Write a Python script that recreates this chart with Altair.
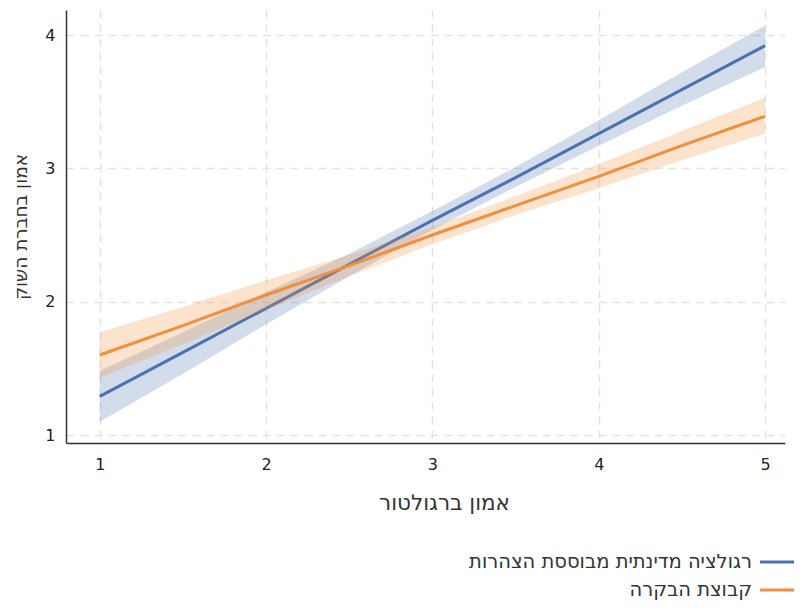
import altair as alt
import pandas as pd

# ---- data ----
x_vals = [1.0, 1.5, 2.0, 2.5, 3.0, 3.5, 4.0, 4.5, 5.0]

blue_mid = [1.29, 1.62, 1.95, 2.28, 2.61, 2.93, 3.26, 3.59, 3.92]
blue_lo = [1.10, 1.46, 1.83, 2.19, 2.54, 2.86, 3.17, 3.47, 3.76]
blue_hi = [1.48, 1.77, 2.07, 2.36, 2.68, 3.01, 3.36, 3.72, 4.07]

orange_mid = [1.60, 1.82, 2.05, 2.27, 2.50, 2.72, 2.94, 3.17, 3.39]
orange_lo = [1.43, 1.68, 1.94, 2.19, 2.43, 2.65, 2.85, 3.06, 3.26]
orange_hi = [1.77, 1.96, 2.16, 2.35, 2.56, 2.79, 3.03, 3.28, 3.53]

groups = ["רגולציה מדינתית מבוססת הצהרות", "קבוצת הבקרה"]
colors = ["#4C72B0", "#F28E3C"]

x_title = "אמון ברגולטור"
y_title = "אמון בחברת השוק"
x_ticks = [1, 2, 3, 4, 5]
y_ticks = [1, 2, 3, 4]

rows = []
for g, mid, lo, hi in [(groups[0], blue_mid, blue_lo, blue_hi),
                       (groups[1], orange_mid, orange_lo, orange_hi)]:
    for x, m, l, h in zip(x_vals, mid, lo, hi):
        rows.append({"group": g, "x": x, "y": m, "lo": l, "hi": h})
df = pd.DataFrame(rows)

xs = alt.Scale(domain=[0.797, 5.12], nice=False, zero=False)
ys = alt.Scale(domain=[0.94, 4.1875], nice=False, zero=False)

xax = alt.Axis(values=x_ticks, title=x_title, format="d",
               titleX=378, titleAlign="center")
yax = alt.Axis(values=y_ticks, title=y_title, format="d")

base = alt.Chart(df)

layers = []
for g, c in zip(groups, colors):
    sub = base.transform_filter(alt.datum.group == g)
    band = sub.mark_area(color=c, opacity=0.25).encode(
        x=alt.X("x:Q", scale=xs, axis=xax),
        y=alt.Y("lo:Q", scale=ys, axis=yax),
        y2="hi:Q",
    )
    line = sub.mark_line(color=c, strokeWidth=3).encode(
        x=alt.X("x:Q", scale=xs, axis=xax),
        y=alt.Y("y:Q", scale=ys, axis=yax),
    )
    layers += [band, line]

# manual legend (symbol on the right of the label, RTL style)
legend_layers = []
for i, (g, c) in enumerate(zip(groups, colors)):
    ypix = 552 + i * 28
    one = alt.Chart(pd.DataFrame({"label": [g]}))
    legend_layers.append(
        one.mark_rule(color=c, strokeWidth=3).encode(
            x=alt.value(694), x2=alt.value(728), y=alt.value(ypix)
        )
    )
    legend_layers.append(
        one.mark_text(align="right", baseline="alphabetic", fontSize=19.5,
                      font="DejaVu Sans", color="#333333").encode(
            x=alt.value(686), y=alt.value(ypix + 6), text="label:N"
        )
    )

chart = alt.layer(*layers, *legend_layers).properties(
    width=719, height=433,
    autosize=alt.AutoSizeParams(type="none"),
    padding={"left": 58, "top": 2, "right": 9, "bottom": 159},
).configure_view(stroke=None).configure_axis(
    grid=True,
    gridDash=[8, 6],
    gridColor="#e3e3e3",
    gridWidth=1.5,
    domainColor="#333333",
    domainWidth=1.5,
    ticks=False,
    labelFont="DejaVu Sans",
    titleFont="DejaVu Sans",
    labelFontSize=16,
    labelColor="#222222",
    titleColor="#333333",
    titleFontWeight="normal",
).configure_axisX(
    labelPadding=13, titlePadding=20, titleFontSize=21.5
).configure_axisY(
    labelPadding=11, titlePadding=14, titleFontSize=18.5
)

chart.save("out.html", embed_options={"renderer": "svg", "actions": False})
